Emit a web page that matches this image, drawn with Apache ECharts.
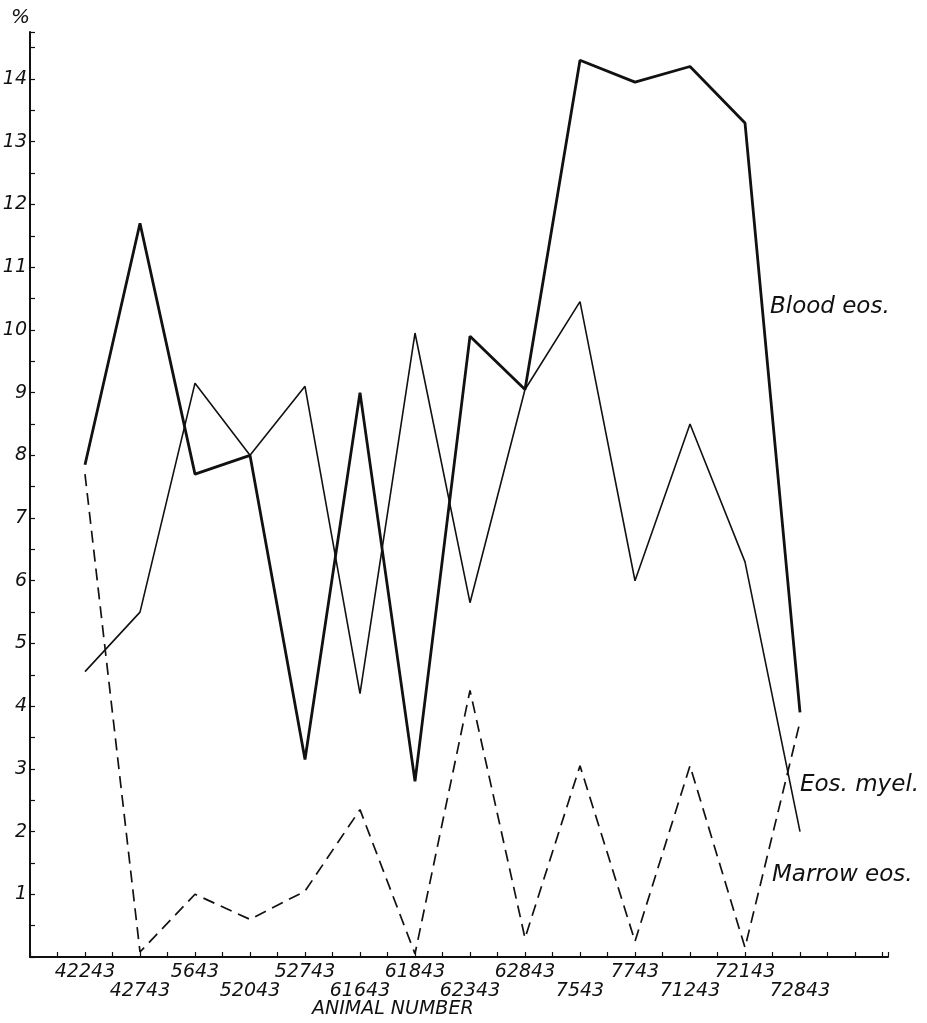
<!DOCTYPE html>
<html>
<head>
<meta charset="utf-8">
<script src="https://cdn.jsdelivr.net/npm/echarts@6/dist/echarts.min.js"></script>
<style>
  html, body { margin: 0; padding: 0; background: #fff; }
  #chart { width: 927px; height: 1023px; }
</style>
</head>
<body>
<div id="chart"></div>
<script>
// Animal numbers along the x axis, in the order they were plotted
const animalNumbers = ['42243', '42743', '5643', '52043', '52743', '61643', '61843',
                       '62343', '62843', '7543', '7743', '71243', '72143', '72843'];

// Percentages for each animal
const bloodEos  = [7.85, 11.7, 7.7, 8.0, 3.15, 9.0, 2.8, 9.9, 9.05, 14.3, 13.95, 14.2, 13.3, 3.9];
const eosMyel   = [4.55, 5.5, 9.15, 8.0, 9.1, 4.2, 9.95, 5.65, 9.05, 10.45, 6.0, 8.5, 6.3, 2.0];
const marrowEos = [7.7, 0.08, 1.0, 0.6, 1.05, 2.35, 0.05, 4.25, 0.3, 3.05, 0.25, 3.05, 0.15, 3.75];

// Labelled values on the y axis
const yTickLabels = [1, 2, 3, 4, 5, 6, 7, 8, 9, 10, 11, 12, 13, 14];

const HAND = "'DejaVu Sans', 'Liberation Sans', sans-serif";
const INK = '#111';

const pairs = arr => arr.map((v, i) => [i, v]);

const chart = echarts.init(document.getElementById('chart'), null, { renderer: 'canvas' });

chart.setOption({
  animation: false,
  backgroundColor: '#fff',
  grid: { left: 30, right: 39, top: 32, bottom: 66, containLabel: false, outerBoundsMode: 'none' },
  xAxis: {
    type: 'value',
    min: -1,
    max: 14.6,
    interval: 0.5,
    axisLine: { show: true, onZero: false, lineStyle: { color: INK, width: 2 } },
    axisTick: { show: true, inside: true, length: 5, lineStyle: { color: INK, width: 1.2 } },
    splitLine: { show: false },
    axisLabel: {
      margin: 6,
      fontFamily: HAND,
      fontStyle: 'italic',
      fontSize: 19,
      color: INK,
      lineHeight: 19,
      formatter: v => {
        const i = Math.round(v * 2) / 2;
        if (!Number.isInteger(i) || i < 0 || i >= animalNumbers.length) return '';
        return i % 2 === 0 ? animalNumbers[i] : '\n' + animalNumbers[i];
      }
    }
  },
  yAxis: {
    type: 'value',
    min: 0,
    max: 14.75,
    interval: 0.5,
    axisLine: { show: true, onZero: false, lineStyle: { color: INK, width: 2 } },
    axisTick: { show: true, inside: true, length: 5, lineStyle: { color: INK, width: 1.2 } },
    splitLine: { show: false },
    axisLabel: {
      margin: 3,
      fontFamily: HAND,
      fontStyle: 'italic',
      fontSize: 19,
      color: INK,
      formatter: v => (yTickLabels.indexOf(v) >= 0 ? String(v) : '')
    }
  },
  series: [
    {
      name: 'Blood eos.',
      type: 'line',
      data: pairs(bloodEos),
      symbol: 'none',
      lineStyle: { color: INK, width: 2.8 },
      z: 3
    },
    {
      name: 'Eos. myel.',
      type: 'line',
      data: pairs(eosMyel),
      symbol: 'none',
      lineStyle: { color: INK, width: 1.6 },
      z: 2
    },
    {
      name: 'Marrow eos.',
      type: 'line',
      data: pairs(marrowEos),
      symbol: 'none',
      lineStyle: { color: INK, width: 1.7, type: [12, 7] },
      z: 1
    }
  ],
  graphic: [
    { type: 'text', left: 11, top: 8,
      style: { text: '%', font: `italic 20px ${HAND}`, fill: INK } },
    { type: 'text', left: 770, top: 296,
      style: { text: 'Blood eos.', font: `italic 23px ${HAND}`, fill: INK } },
    { type: 'text', left: 800, top: 774,
      style: { text: 'Eos. myel.', font: `italic 23px ${HAND}`, fill: INK } },
    { type: 'text', left: 772, top: 864,
      style: { text: 'Marrow eos.', font: `italic 23px ${HAND}`, fill: INK } },
    { type: 'text', left: 312, top: 1000,
      style: { text: 'ANIMAL NUMBER', font: `italic 19px ${HAND}`, fill: INK } }
  ]
});
</script>
</body>
</html>
